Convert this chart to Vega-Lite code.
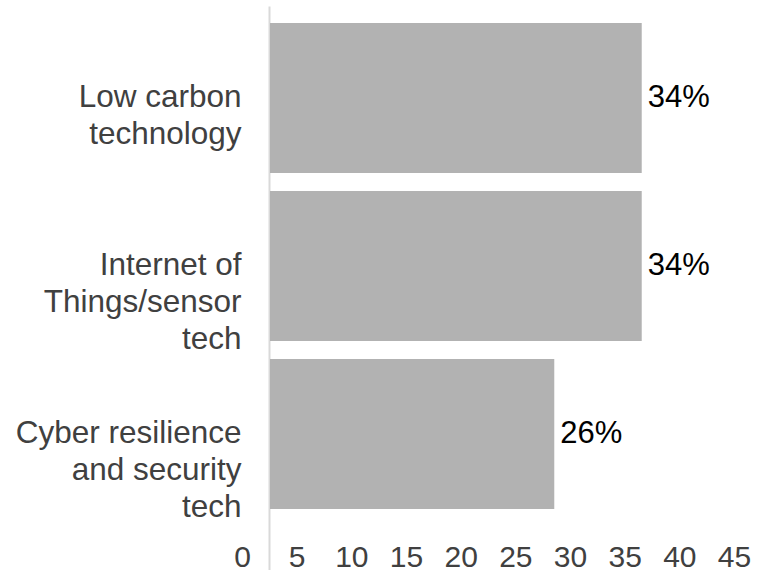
{
  "$schema": "https://vega.github.io/schema/vega-lite/v6.json",
  "autosize": {"type": "none"},
  "padding": {"left": 270, "top": 6, "right": 4, "bottom": 0},
  "width": 492,
  "height": 564,
  "background": "white",
  "config": {
    "view": {"stroke": null},
    "font": "Liberation Sans"
  },
  "data": {
    "values": [
      {"area": "Low carbon|technology", "share": 34, "label": "34%"},
      {"area": "Internet of|Things/sensor|tech", "share": 34, "label": "34%"},
      {"area": "Cyber resilience|and security|tech", "share": 26, "label": "26%"}
    ]
  },
  "encoding": {
    "y": {
      "field": "area",
      "type": "nominal",
      "sort": null,
      "scale": {"paddingInner": 0.107, "paddingOuter": 0.232, "align": 0.218},
      "axis": {
        "title": null,
        "ticks": false,
        "offset": 1,
        "domainColor": "#d9d9d9",
        "domainWidth": 2,
        "labelExpr": "split(datum.label, '|')",
        "labelFontSize": 31.5,
        "labelLineHeight": 37,
        "labelColor": "#404040",
        "labelPadding": 28,
        "labelLimit": 0,
        "labelAlign": "right",
        "labelBaseline": "middle"
      }
    },
    "x": {
      "field": "share",
      "type": "quantitative",
      "scale": {"domain": [0, 45], "nice": false},
      "axis": {
        "title": null,
        "values": [0, 5, 10, 15, 20, 25, 30, 35, 40, 45],
        "grid": false,
        "ticks": false,
        "tickSize": 0,
        "domain": false,
        "offset": -31,
        "labelPadding": 3,
        "labelOffset": -28,
        "labelFontSize": 30,
        "labelColor": "#404040",
        "labelLimit": 0,
        "labelFlush": false
      }
    }
  },
  "layer": [
    {
      "mark": {"type": "bar", "color": "#b2b2b2"}
    },
    {
      "mark": {"type": "text", "align": "left", "baseline": "middle", "dx": 6, "fontSize": 31, "color": "#000000"},
      "encoding": {"text": {"field": "label"}}
    }
  ]
}
